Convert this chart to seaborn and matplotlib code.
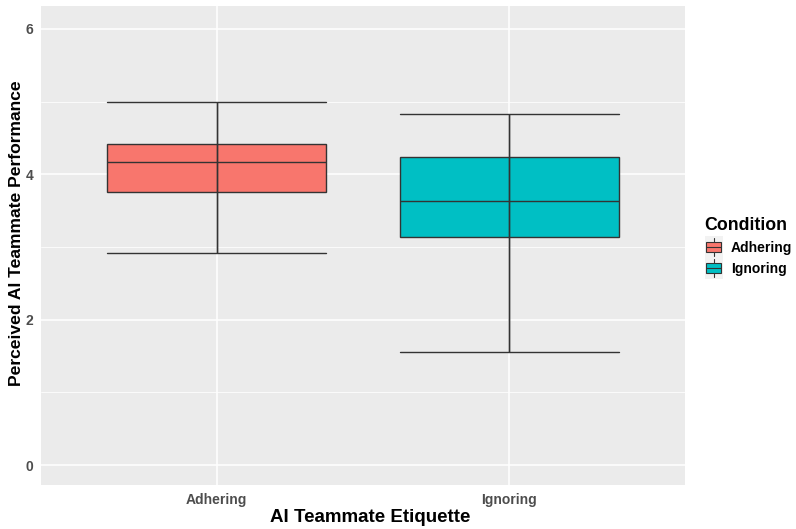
import numpy as np
import pandas as pd
import seaborn as sns
import matplotlib
matplotlib.use("Agg")
import matplotlib.pyplot as plt
from matplotlib.patches import Rectangle
from matplotlib.lines import Line2D
from matplotlib.legend_handler import HandlerBase
from matplotlib.ticker import MultipleLocator

# ---- data ----
categories = ["Adhering", "Ignoring"]
# five-number summaries: [lower whisker, Q1, median, Q3, upper whisker]
adhering_values = [2.92, 3.76, 4.17, 4.42, 5.00]
ignoring_values = [1.55, 3.14, 3.63, 4.24, 4.83]
palette_colors = ["#F8766D", "#00BFC4"]
y_ticks = [0, 2, 4, 6]

df = pd.DataFrame({
    "Etiquette": [categories[0]] * len(adhering_values) + [categories[1]] * len(ignoring_values),
    "Score": adhering_values + ignoring_values,
})
df["Condition"] = df["Etiquette"]

sns.set_theme(style="white")
plt.rcParams['font.family'] = ['Liberation Sans', 'DejaVu Sans']
plt.rcParams['text.color'] = 'black'

W, H = 796, 529
fig = plt.figure(figsize=(W / 100, H / 100), dpi=100)
ax = fig.add_axes([41 / W, (H - 485) / H, (685 - 41) / W, (485 - 6) / H])
ax.set_facecolor("#EBEBEB")

BOXW = 0.75
sns.boxplot(data=df, x="Etiquette", y="Score", hue="Condition",
            order=categories, hue_order=categories, palette=palette_colors,
            width=BOXW, whis=np.inf, linecolor="#333333", linewidth=1.0,
            dodge=False, legend=False, saturation=1, ax=ax)

# ggplot-like: whisker line through the box, wide caps
whisk = {}
for line in ax.lines:
    xd = np.asarray(line.get_xdata(), float)
    yd = np.asarray(line.get_ydata(), float)
    if len(xd) != 2:
        continue
    if np.isclose(xd[0], xd[1]):
        whisk.setdefault(round(xd[0], 3), []).append(line)
    elif np.isclose(yd[0], yd[1]) and abs(xd[1] - xd[0]) < BOXW * 0.9:
        c = xd.mean()
        line.set_xdata([c - BOXW / 2, c + BOXW / 2])
for x, lines in whisk.items():
    ys = np.concatenate([l.get_ydata() for l in lines])
    for l in lines:
        l.set_ydata([ys.min(), ys.max()])
        l.set_zorder(3)

ax.set_xlim(-0.6, 1.6)
ax.set_ylim(-0.275, 6.316)
ax.set_yticks(y_ticks)
ax.yaxis.set_minor_locator(MultipleLocator(1))
ax.set_axisbelow(True)
ax.grid(which="major", color="white", linewidth=1.1)
ax.grid(which="minor", axis="y", color="white", linewidth=0.55)
for s in ax.spines.values():
    s.set_visible(False)
ax.tick_params(axis="both", which="major", length=3.5, width=0.9, color="#333333",
               labelcolor="#4D4D4D", labelsize=10, pad=2)
ax.tick_params(which="minor", length=0)
for t in ax.get_xticklabels() + ax.get_yticklabels():
    t.set_fontweight("bold")
ax.set_xlabel("AI Teammate Etiquette", fontsize=13.5, fontweight="bold", color="black")
ax.set_ylabel("Perceived AI Teammate Performance", fontsize=12.6, fontweight="bold", color="black")
ax.xaxis.label.set_verticalalignment("center")
ax.yaxis.label.set_verticalalignment("center")
ax.xaxis.set_label_coords((370 - 41) / 644, (485 - 517) / 479)
ax.yaxis.set_label_coords((17 - 41) / 644, (485 - 233) / 479)


class BoxKey(HandlerBase):
    def create_artists(self, legend, orig_handle, xdescent, ydescent, width, height, fontsize, trans):
        arts = []
        bg = Rectangle((-xdescent, -ydescent - 3), width, height + 6, facecolor="#F2F2F2",
                       edgecolor="none", transform=trans)
        arts.append(bg)
        cx = -xdescent + width / 2
        y0 = -ydescent + height * 0.12
        y1 = -ydescent + height * 0.88
        arts.append(Line2D([cx, cx], [-ydescent - 2, -ydescent + height + 2], color="#333333", lw=0.8, transform=trans))
        arts.append(Rectangle((-xdescent + 1, y0), width - 2, y1 - y0, facecolor=orig_handle.get_facecolor(),
                              edgecolor="#333333", lw=0.8, transform=trans))
        ym = (y0 + y1) / 2
        arts.append(Line2D([-xdescent + 1, -xdescent + width - 1], [ym, ym], color="#333333", lw=0.8, transform=trans))
        return arts


handles = [Rectangle((0, 0), 1, 1, facecolor=c) for c in palette_colors]
leg = fig.legend(handles, categories, title="Condition", loc="upper left",
                 bbox_to_anchor=(699 / W, (H - 211) / H), frameon=False,
                 handler_map={Rectangle: BoxKey()}, handlelength=1.3, handleheight=1.05,
                 handletextpad=0.6, labelspacing=0.5, borderaxespad=0,
                 prop={"size": 10, "weight": "bold"},
                 title_fontproperties={"size": 12.8, "weight": "bold"})
leg._legend_box.align = "left"
leg.get_title().set_color("black")
for t in leg.get_texts():
    t.set_color("black")

fig.savefig("out.png", dpi=100)
